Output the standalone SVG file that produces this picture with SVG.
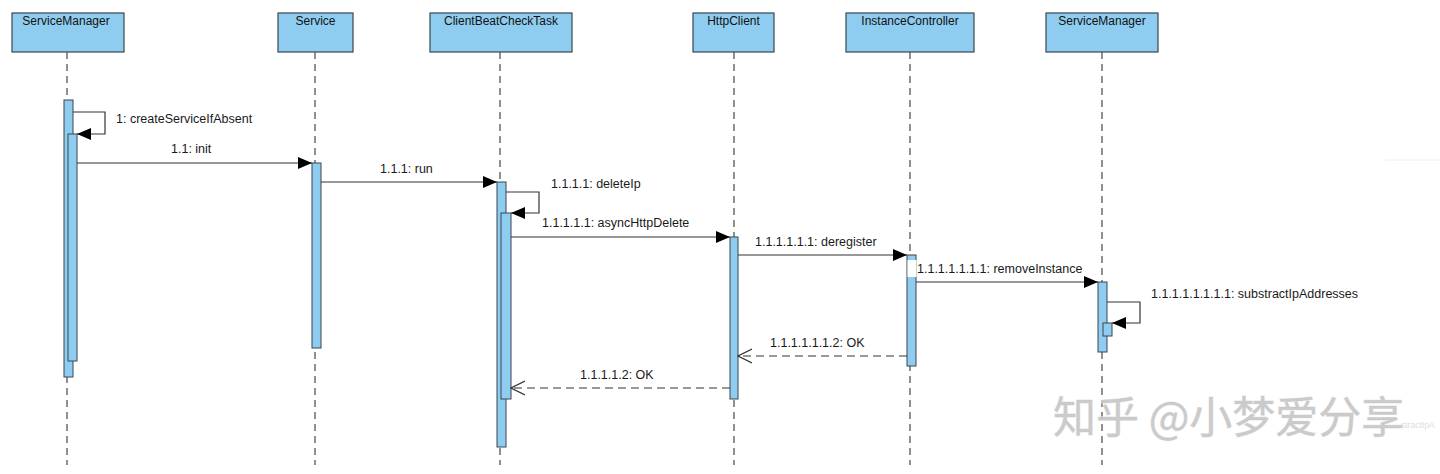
<svg xmlns="http://www.w3.org/2000/svg" width="1440" height="474" viewBox="0 0 1440 474">
<defs>
<style>
.hdr{fill:#8fcdf0;stroke:#3a4550;stroke-width:1.2}
.act{fill:#8fcdf0;stroke:#3a4550;stroke-width:1}
.life{stroke:#555;stroke-width:1.3;stroke-dasharray:7 5;fill:none}
.ht{font-family:"Liberation Sans",Arial,sans-serif;font-size:12px;fill:#111;text-anchor:middle}
.lbl{font-family:"Liberation Sans",Arial,sans-serif;font-size:12.5px;fill:#1a1a1a}
.msg{stroke:#333;stroke-width:1.2;fill:none}
.ret{stroke:#333;stroke-width:1.2;fill:none;stroke-dasharray:8 5}
.wm{font-family:"Noto Sans CJK SC",sans-serif;font-size:43px;fill:#c4c4c4}
</style>
<marker id="fa" viewBox="0 0 14 12" refX="14" refY="6" markerWidth="14" markerHeight="12" markerUnits="userSpaceOnUse" orient="auto">
<path d="M0,0 L14,6 L0,12 Z" fill="#000"/>
</marker>
<marker id="oa" viewBox="0 0 15 16" refX="14" refY="8" markerWidth="15" markerHeight="16" markerUnits="userSpaceOnUse" orient="auto">
<path d="M0,1 L14,8 L0,15" fill="none" stroke="#333" stroke-width="1.2"/>
</marker>
</defs>
<rect width="1440" height="474" fill="#fff"/>
<line x1="1385" y1="160" x2="1440" y2="160" stroke="#eeeeee" stroke-width="1"/>

<g id="node-servicemanager1">
<rect class="hdr" x="12" y="13" width="112" height="39"/>
<text class="ht" x="66" y="25">ServiceManager</text>
<line class="life" x1="67" y1="52" x2="67" y2="465"/>
<rect class="act" x="64" y="100" width="9" height="277"/>
<rect class="act" x="68" y="134" width="9" height="227"/>
</g>

<g id="node-service">
<rect class="hdr" x="278" y="13" width="75" height="39"/>
<text class="ht" x="315.5" y="25">Service</text>
<line class="life" x1="315" y1="52" x2="315" y2="465"/>
<rect class="act" x="312" y="163" width="9" height="185"/>
</g>

<g id="node-clientbeatchecktask">
<rect class="hdr" x="430" y="13" width="142" height="39"/>
<text class="ht" x="501" y="25">ClientBeatCheckTask</text>
<line class="life" x1="500" y1="52" x2="500" y2="465"/>
<rect class="act" x="497" y="182" width="9" height="265"/>
<rect class="act" x="501" y="213" width="10" height="186"/>
</g>

<g id="node-httpclient">
<rect class="hdr" x="693" y="13" width="81" height="39"/>
<text class="ht" x="733.5" y="25">HttpClient</text>
<line class="life" x1="734" y1="52" x2="734" y2="465"/>
<rect class="act" x="730" y="237" width="8" height="162"/>
</g>

<g id="node-instancecontroller">
<rect class="hdr" x="846" y="13" width="128" height="39"/>
<text class="ht" x="910" y="25">InstanceController</text>
<line class="life" x1="910" y1="52" x2="910" y2="465"/>
<rect class="act" x="907" y="255" width="9" height="111"/>
</g>

<g id="node-servicemanager2">
<rect class="hdr" x="1046" y="13" width="112" height="39"/>
<text class="ht" x="1102" y="25">ServiceManager</text>
<line class="life" x1="1102" y1="52" x2="1102" y2="465"/>
<rect class="act" x="1098" y="282" width="9" height="70"/>
<rect class="act" x="1103" y="323" width="9" height="13"/>
</g>

<g id="connectors">
<path class="msg" d="M73,112 H105 V134 H77" marker-end="url(#fa)"/>
<text class="lbl" x="116" y="123">1: createServiceIfAbsent</text>

<line class="msg" x1="77" y1="163" x2="312" y2="163" marker-end="url(#fa)"/>
<text class="lbl" x="171" y="153">1.1: init</text>

<line class="msg" x1="321" y1="182" x2="497" y2="182" marker-end="url(#fa)"/>
<text class="lbl" x="380" y="173">1.1.1: run</text>

<path class="msg" d="M506,192 H539 V213 H511" marker-end="url(#fa)"/>
<text class="lbl" x="551" y="188">1.1.1.1: deleteIp</text>

<line class="msg" x1="511" y1="237" x2="730" y2="237" marker-end="url(#fa)"/>
<text class="lbl" x="542" y="227">1.1.1.1.1: asyncHttpDelete</text>

<line class="msg" x1="738" y1="255" x2="907" y2="255" marker-end="url(#fa)"/>
<text class="lbl" x="755" y="246">1.1.1.1.1.1: deregister</text>

<rect x="907.5" y="260" width="9" height="17" fill="#fff"/>
<line class="msg" x1="916" y1="282" x2="1098" y2="282" marker-end="url(#fa)"/>
<text class="lbl" x="917" y="273">1.1.1.1.1.1.1: removeInstance</text>

<path class="msg" d="M1107,302 H1140 V323 H1112" marker-end="url(#fa)"/>
<text class="lbl" x="1151" y="298">1.1.1.1.1.1.1.1: substractIpAddresses</text>

<line class="ret" x1="907" y1="356" x2="738" y2="356" marker-end="url(#oa)"/>
<text class="lbl" x="770" y="347">1.1.1.1.1.1.2: OK</text>

<line class="ret" x1="730" y1="388" x2="511" y2="388" marker-end="url(#oa)"/>
<text class="lbl" x="580" y="379">1.1.1.1.2: OK</text>
</g>

<g id="watermark">
<text class="wm" x="1053" y="433" fill-opacity="0.9" style="paint-order:stroke" stroke="#e8e8e8" stroke-width="1">知乎 @小梦爱分享</text>
<text x="1401" y="428" font-family="Liberation Sans, Arial, sans-serif" font-size="8.5" fill="#dddddd">stractIpA</text>
</g>
</svg>
